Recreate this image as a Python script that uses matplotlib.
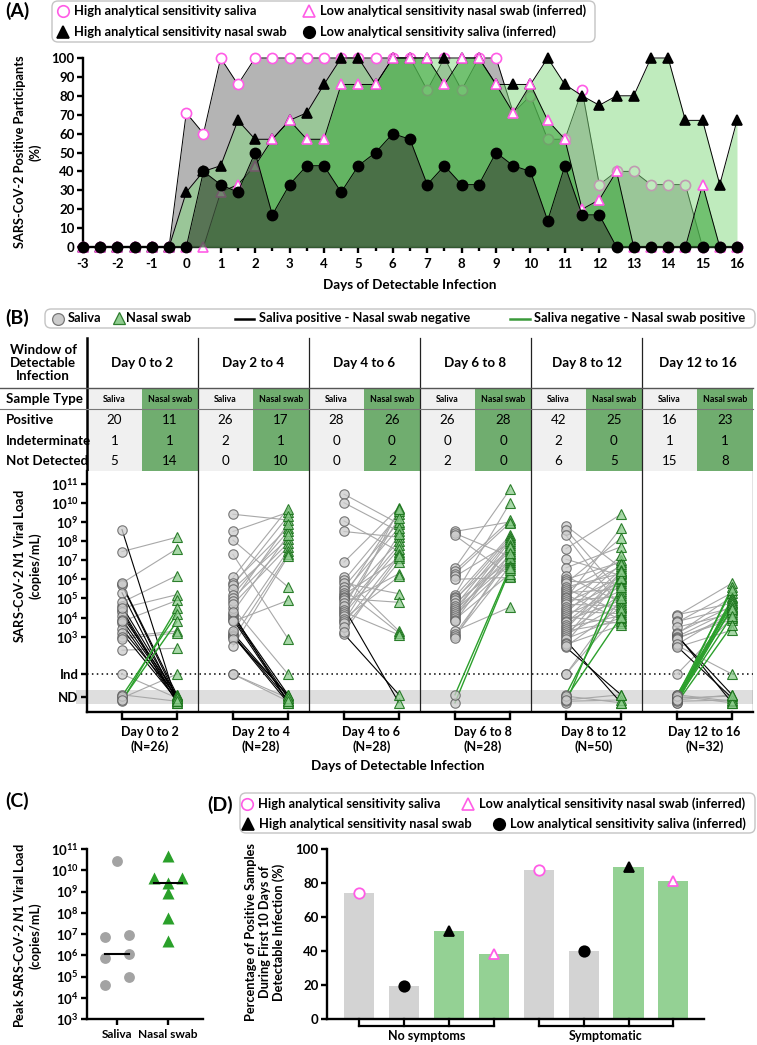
import numpy as np
import matplotlib
matplotlib.use('Agg')
import matplotlib.pyplot as plt
from matplotlib.patches import FancyBboxPatch, Rectangle
from matplotlib.transforms import blended_transform_factory as blend

plt.rcParams['font.family'] = ['Lato', 'DejaVu Sans']
plt.rcParams['font.weight'] = 'bold'
plt.rcParams['axes.unicode_minus'] = False
plt.rcParams['mathtext.fontset'] = 'custom'
plt.rcParams['mathtext.rm'] = 'Lato:bold'
plt.rcParams['mathtext.bf'] = 'Lato:bold'
plt.rcParams['mathtext.it'] = 'Lato:bold:italic'

# ------------------------------------------------------------------ data
# Panel A  (% positive participants by day of detectable infection)
days = np.arange(-3, 16.01, 0.5)
high_saliva = [0, 0, 0, 0, 0, 0, 71, 60, 100, 86, 100, 100, 100, 100, 100, 100, 100, 100, 100, 100,
               83, 100, 83, 100, 100, 71, 80, 57, 57, 83, 33, 40, 40, 33, 33, 33, 0, 0, 0]
high_nasal = [0, 0, 0, 0, 0, 0, 29, 40, 43, 67, 57, 57, 67, 71, 86, 100, 100, 86, 100, 100,
              100, 100, 100, 100, 86, 86, 86, 100, 86, 80, 75, 80, 80, 100, 100, 67, 67, 33, 67]
low_nasal = [0, 0, 0, 0, 0, 0, 0, 0, 29, 33, 43, 57, 67, 57, 57, 86, 86, 86, 100, 100,
             100, 86, 100, 100, 86, 71, 86, 67, 57, 20, 25, 40, 0, 0, 0, 0, 33, 0, 0]
low_saliva = [0, 0, 0, 0, 0, 0, 0, 40, 33, 29, 50, 17, 33, 43, 43, 29, 43, 50, 60, 57,
              33, 43, 33, 33, 50, 43, 40, 14, 43, 17, 17, 0, 0, 0, 0, 0, 0, 0, 0]

# Panel B table
windows = ['Day 0 to 2', 'Day 2 to 4', 'Day 4 to 6', 'Day 6 to 8', 'Day 8 to 12', 'Day 12 to 16']
n_pairs = [26, 28, 28, 28, 50, 32]
row_names = ['Positive', 'Indeterminate', 'Not Detected']
saliva_positive = [20, 26, 28, 26, 42, 16]
saliva_indeterminate = [1, 2, 0, 0, 2, 1]
saliva_not_detected = [5, 0, 0, 2, 6, 15]
nasal_positive = [11, 17, 26, 28, 25, 23]
nasal_indeterminate = [1, 1, 0, 0, 0, 1]
nasal_not_detected = [14, 10, 2, 0, 5, 8]

# Panel B paired viral loads (log10 copies/mL; 'Ind' indeterminate, 'ND' not detected)
g1_saliva = [8.6, 5.75, 5.7, 5.3, 4.6, 4.4, 4.3, 4.1, 3.9, 3.7, 3.4, 3.2,
             7.45, 5.8, 4.8, 4.5, 3.8, 3.0, 2.9, 2.3,
             'Ind', 'ND', 'ND', 'ND', 'ND', 'ND']
g1_nasal = ['ND', 'ND', 'ND', 'ND', 'ND', 'ND', 'ND', 'ND', 'ND', 'ND', 'ND', 'ND',
            8.2, 7.6, 6.2, 5.2, 4.9, 3.3, 3.2, 2.4,
            'ND', 'ND', 'Ind', 4.5, 4.2, 3.8]
g2_saliva = [4.2, 4.1, 4.0, 3.9, 3.2, 3.1, 3.05, 3.0, 4.5,
             9.4, 8.5, 8.05, 7.3, 6.1, 5.8, 5.7, 5.5, 5.2, 5.0, 4.85, 4.7, 4.3, 3.8, 3.3, 2.9, 2.5,
             'Ind', 'Ind']
g2_nasal = ['ND', 'ND', 'ND', 'ND', 'ND', 'ND', 'ND', 'ND', 'Ind',
            9.1, 9.5, 5.6, 2.9, 9.7, 8.7, 9.3, 8.1, 8.5, 7.9, 8.9, 7.7, 8.3, 4.9, 7.5, 7.3, 7.2,
            'ND', 'ND']
g3_saliva = [4.5, 3.15,
             10.45, 10.0, 9.05, 8.5, 6.9, 6.1, 5.95, 5.8, 5.6, 5.45, 5.3, 5.2, 5.1, 5.0, 4.9, 4.75,
             4.6, 4.4, 4.3, 4.2, 4.1, 3.95, 3.8, 3.7, 3.5, 3.25]
g3_nasal = ['ND', 'ND',
            8.9, 8.5, 7.45, 8.2, 9.75, 3.3, 9.4, 5.25, 9.0, 3.2, 8.7, 7.1, 9.55, 4.8, 8.0, 6.3,
            9.2, 7.8, 3.1, 7.6, 9.65, 6.15, 8.35, 7.3, 6.9, 7.2]
g4_saliva = [8.5, 8.4, 8.3, 6.6, 6.45, 6.3, 6.15, 6.0, 5.2, 5.1, 5.0, 4.9, 4.75, 4.6, 4.5, 4.4,
             4.3, 4.2, 4.1, 4.0, 3.9, 3.8, 3.3, 3.15, 3.05, 2.95, 'ND', 'ND']
g4_nasal = [9.0, 7.2, 6.2, 10.7, 9.1, 8.95, 7.9, 6.1, 10.0, 8.3, 7.6, 8.2, 7.0, 8.1, 7.5, 6.9,
            8.0, 7.3, 6.8, 7.8, 6.3, 7.7, 4.55, 7.1, 6.7, 7.4, 6.5, 6.6]
g5_saliva = [2.8, 2.45,
             8.8, 8.6, 8.3, 7.6, 7.05, 6.6, 6.15, 6.0, 5.9, 5.8, 5.6, 5.5, 5.4, 5.3, 5.2, 5.1, 5.0,
             4.9, 4.8, 4.7, 4.55, 4.45, 4.35, 4.25, 4.15, 4.05, 3.95, 3.85, 3.75, 3.6, 3.5, 3.4,
             3.3, 3.2, 3.1, 3.0, 2.9, 2.7, 2.6, 2.5,
             'Ind', 'Ind', 'ND', 'ND', 'ND', 'ND', 'ND', 'ND']
g5_nasal = ['ND', 'ND',
            6.6, 5.3, 4.5, 9.4, 6.2, 7.7, 4.8, 6.9, 5.8, 8.15, 6.3, 4.3, 7.0, 5.5, 3.9, 6.7, 8.7,
            5.1, 6.1, 4.6, 7.25, 5.9, 4.2, 6.8, 5.4, 3.7, 6.5, 4.9, 6.0, 5.7, 4.1, 6.4, 3.8, 5.2,
            4.7, 6.35, 4.0, 6.05, 3.6, 4.55,
            5.0, 4.4, 6.45, 5.6, 4.05, 'ND', 'ND', 'ND']
g6_saliva = [3.1, 3.05, 2.5, 2.55,
             4.15, 4.1, 3.8, 3.75, 3.5, 3.2, 3.15, 3.0, 2.95, 2.9, 2.6, 2.45,
             'Ind',
             'ND', 'ND', 'ND', 'ND', 'ND', 'ND', 'ND', 'ND', 'ND', 'ND',
             'ND', 'ND', 'ND', 'ND', 'ND']
g6_nasal = ['ND', 'ND', 'ND', 'Ind',
            4.75, 5.8, 4.5, 5.3, 4.2, 4.6, 5.1, 4.4, 3.9, 4.05, 4.3, 3.35,
            4.0,
            5.6, 5.45, 5.0, 4.9, 4.8, 4.7, 4.55, 4.45, 4.1, 3.6,
            'ND', 'ND', 'ND', 'ND', 'ND']
pairs_saliva = [g1_saliva, g2_saliva, g3_saliva, g4_saliva, g5_saliva, g6_saliva]
pairs_nasal = [g1_nasal, g2_nasal, g3_nasal, g4_nasal, g5_nasal, g6_nasal]

# Panel C peak viral load (log10 copies/mL)
peak_saliva = [10.42, 6.94, 6.84, 6.06, 5.86, 4.98, 4.62]
peak_nasal = [10.69, 9.64, 9.64, 9.4, 8.93, 7.75, 6.65]

# Panel D
symptom_groups = ['No symptoms', 'Symptomatic']
pct_high_saliva = [74, 87.5]
pct_low_saliva = [19.5, 40]
pct_high_nasal = [52, 89.5]
pct_low_nasal = [38.5, 81]

# ------------------------------------------------------------------ styling
W, H = 757, 1045
PINK = '#ff5ce6'
TFS = 9.5    # tick labels
LFS = 9.3    # legends
AFS = 9.2    # axis titles
BFS = 9.6    # table text
fig = plt.figure(figsize=(W / 100, H / 100), dpi=100)


def add_ax(l, t, r, b, **kw):
    return fig.add_axes([l / W, 1 - b / H, (r - l) / W, (b - t) / H], **kw)


def style_axis(ax, lw=1.7):
    for s in ['top', 'right']:
        ax.spines[s].set_visible(False)
    for s in ['left', 'bottom']:
        ax.spines[s].set_linewidth(lw)
    ax.tick_params(width=lw, length=4, labelsize=TFS, pad=2)


# ------------------------------------------------------------------ panel A
axA = add_ax(83, 58, 737, 247)
styles = [
    (high_saliva, '#b4b4b4', 1.0, 'o', 'white', PINK),
    (high_nasal, '#81d97d', 0.5, '^', 'black', 'black'),
    (low_nasal, '#3fa83f', 0.6, '^', 'white', PINK),
    (low_saliva, '#42593f', 0.75, 'o', 'black', 'black'),
]
for i, (vals, fc, al, mk, mfc, mec) in enumerate(styles):
    z = 2 + i
    axA.fill_between(days, vals, 0, color=fc, alpha=al, lw=0, zorder=z)
    axA.plot(days, vals, color='black', lw=0.7, zorder=z + 0.1, clip_on=False)
    axA.plot(days, vals, ls='none', marker=mk, ms=7.3, mfc=mfc, mec=mec, mew=1.2,
             zorder=z + 0.2, clip_on=False)
axA.set_xlim(-3, 16)
axA.set_ylim(0, 100)
axA.set_yticks(np.arange(0, 101, 10))
axA.set_xticks(np.arange(-3, 17, 1))
axA.set_xticks(np.arange(-2.5, 16, 1), minor=True)
style_axis(axA)
axA.tick_params(axis='x', which='minor', width=1.7, length=3)
axA.tick_params(axis='x', pad=4)

# ------------------------------------------------------------------ panel B table
GL, GW = 87, 111
tab = add_ax(0, 330, 757, 472)
tab.set_xlim(0, W)
tab.set_ylim(472, 330)
tab.axis('off')
row_y = [420, 441, 461]
sal_rows = [saliva_positive, saliva_indeterminate, saliva_not_detected]
nas_rows = [nasal_positive, nasal_indeterminate, nasal_not_detected]
for g, name in enumerate(windows):
    x0 = GL + GW * g
    tab.add_patch(Rectangle((x0, 388), 55, 84, fc='#f0f0f0', ec='none', zorder=0))
    tab.add_patch(Rectangle((x0 + 55, 388), 56, 84, fc='#70ad6f', ec='none', zorder=0))
    tab.text(x0 + GW / 2, 363, name, ha='center', va='center', fontsize=BFS)
    tab.text(x0 + 27.5, 399, 'Saliva', ha='center', va='center', fontsize=6.3)
    tab.text(x0 + 83, 399, 'Nasal swab', ha='center', va='center', fontsize=6.3)
    for r in range(3):
        tab.text(x0 + 27.5, row_y[r], str(sal_rows[r][g]), ha='center', va='center',
                 fontsize=BFS, fontweight='normal')
        tab.text(x0 + 83, row_y[r], str(nas_rows[r][g]), ha='center', va='center',
                 fontsize=BFS, fontweight='normal')
    if g > 0:
        tab.plot([x0, x0], [338, 472], color='#222222', lw=0.9)
tab.plot([GL, GL], [338, 472], color='black', lw=1.8)
tab.plot([0, 753], [388, 388], color='#555555', lw=1.0)
tab.plot([0, 753], [409, 409], color='#777777', lw=0.8)
tab.text(43, 363, 'Window of\nDetectable\nInfection', ha='center', va='center',
         fontsize=BFS, linespacing=1.05)
tab.text(6, 399, 'Sample Type', ha='left', va='center', fontsize=BFS)
for r, nm in enumerate(row_names):
    tab.text(6, row_y[r], nm, ha='left', va='center', fontsize=BFS)

# ------------------------------------------------------------------ panel B scatter
Y_IND, Y_ND = 1.05, -0.15
nd_offsets = [0.05, -0.15, -0.3, 0.12, -0.05, -0.22]
axB = add_ax(GL, 471, 753, 712)
axB.set_xlim(0, 6)
axB.set_ylim(-0.93, 11.66)
style_axis(axB)
axB.axhspan(-0.5, 0.23, xmin=-0.0165, xmax=1, color='#dedede', lw=0, zorder=0, clip_on=False)
axB.axhline(Y_IND, color='black', ls=(0, (1, 2.2)), lw=1.1, zorder=1)
for g in range(1, 7):
    axB.axvline(g, color='#222222', lw=0.9, zorder=1)


def ypos(v, k):
    if v == 'ND':
        return Y_ND + nd_offsets[k % len(nd_offsets)]
    if v == 'Ind':
        return Y_IND
    return float(v)


def is_pos(v):
    return not isinstance(v, str)


bt = blend(axB.transData, axB.transAxes)
for g in range(6):
    xs, xn = g + 35 / GW, g + 90 / GW
    sv, nv = pairs_saliva[g], pairs_nasal[g]
    ys = [ypos(v, k) for k, v in enumerate(sv)]
    yn = [ypos(v, k + 2) for k, v in enumerate(nv)]
    for k in range(len(sv)):
        if is_pos(sv[k]) and nv[k] == 'ND':
            c, lw, z = 'black', 0.8, 3
        elif sv[k] == 'ND' and is_pos(nv[k]):
            c, lw, z = '#2ca02c', 1.0, 3.5
        else:
            c, lw, z = '#a8a8a8', 0.8, 2
        axB.plot([xs, xn], [ys[k], yn[k]], color=c, lw=lw, zorder=z)
    axB.plot([xs] * len(ys), ys, ls='none', marker='o', ms=6.8,
             mfc=(0.80, 0.80, 0.80, 0.75), mec=(0.35, 0.35, 0.35, 0.8), mew=0.8, zorder=5)
    axB.plot([xn] * len(yn), yn, ls='none', marker='^', ms=6.8,
             mfc=(0.55, 0.80, 0.55, 0.75), mec=(0.10, 0.45, 0.10, 0.9), mew=0.8, zorder=5)
    d = 7 / 241
    axB.plot([xs, xs, xn, xn], [0, -d, -d, 0], transform=bt, color='black', lw=1.7,
             clip_on=False, solid_joinstyle='miter')
    axB.text((xs + xn) / 2, -14 / 241, f'{windows[g]}\n(N={n_pairs[g]})', transform=bt,
             ha='center', va='top', fontsize=9, linespacing=1.2)
axB.set_xticks([])
axB.spines['bottom'].set_bounds(0, 6)
yt = [Y_ND, Y_IND] + list(range(3, 12))
ylab = ['ND', 'Ind'] + [r'$\mathbf{10^{%d}}$' % p for p in range(3, 12)]
axB.set_yticks(yt, ylab)
axB.tick_params(axis='y', labelsize=TFS)

# ------------------------------------------------------------------ panel C
axC = add_ax(87, 849, 203, 1019)
axC.set_xlim(-0.59, 1.69)
axC.set_ylim(3, 11)
style_axis(axC)
sal_dx = [0, 0.23, -0.23, 0.23, -0.23, 0.23, -0.23]
nas_dx = [0, -0.27, 0.27, 0, 0, 0, 0]
axC.plot(np.array(sal_dx), peak_saliva, ls='none', marker='o', ms=7.8, color='#a3a3a3',
         mec='none', zorder=3, clip_on=False)
axC.plot(1 + np.array(nas_dx), peak_nasal, ls='none', marker='^', ms=8.3, color='#2aa02a',
         mec='none', zorder=3, clip_on=False)
axC.plot([-0.235, 0.235], [np.median(peak_saliva)] * 2, color='black', lw=1.5, zorder=4)
axC.plot([0.73, 1.27], [np.median(peak_nasal)] * 2, color='black', lw=1.5, zorder=4)
axC.set_yticks(range(3, 12), [r'$\mathbf{10^{%d}}$' % p for p in range(3, 12)])
axC.set_xticks([0, 1], ['Saliva', 'Nasal swab'])
axC.tick_params(axis='x', labelsize=8.6, pad=3)

# ------------------------------------------------------------------ panel D
axD = add_ax(327, 849, 704, 1019)
axD.set_xlim(-0.71, 7.68)
axD.set_ylim(0, 100)
style_axis(axD)
bar_vals, bar_cols, bar_mk = [], [], []
for j in range(2):
    bar_vals += [pct_high_saliva[j], pct_low_saliva[j], pct_high_nasal[j], pct_low_nasal[j]]
    bar_cols += ['#d3d3d3', '#d3d3d3', '#94d194', '#94d194']
    bar_mk += [('o', 'white', PINK), ('o', 'black', 'black'),
               ('^', 'black', 'black'), ('^', 'white', PINK)]
xpos = np.arange(len(bar_vals))
axD.bar(xpos, bar_vals, width=0.67, color=bar_cols, zorder=2)
for x, v, (mk, mfc, mec) in zip(xpos, bar_vals, bar_mk):
    axD.plot([x], [v], marker=mk, ms=7.5, mfc=mfc, mec=mec, mew=1.3, zorder=3)
axD.set_xticks([])
axD.set_yticks(range(0, 101, 20))
bd = blend(axD.transData, axD.transAxes)
dd = 7 / 170
for j, nm in enumerate(symptom_groups):
    xs = xpos[4 * j:4 * j + 4]
    axD.plot([xs[0], xs[-1]], [-dd, -dd], transform=bd, color='black', lw=1.6, clip_on=False)
    for x in xs:
        axD.plot([x, x], [0, -dd], transform=bd, color='black', lw=1.6, clip_on=False)
    axD.text(xs.mean(), -11 / 170, nm, transform=bd, ha='center', va='top', fontsize=9)

# ------------------------------------------------------------------ overlay (labels, legends)
ov = fig.add_axes([0, 0, 1, 1], zorder=10)
ov.set_xlim(0, W)
ov.set_ylim(H, 0)
ov.axis('off')


def box(x0, y0, x1, y1):
    ov.add_patch(FancyBboxPatch((x0, y0), x1 - x0, y1 - y0,
                                boxstyle='round,pad=0,rounding_size=6',
                                fc='white', ec='#c4c4c4', lw=1.0))


# legend A
box(52, 1, 595, 42)
entries = [(63, 11, 'o', 'white', PINK, 74, 'High analytical sensitivity saliva'),
           (309, 11, '^', 'white', PINK, 320, 'Low analytical sensitivity nasal swab (inferred)'),
           (63, 32, '^', 'black', 'black', 74, 'High analytical sensitivity nasal swab'),
           (309, 32, 'o', 'black', 'black', 320, 'Low analytical sensitivity saliva (inferred)')]
for mx, my, mk, mfc, mec, tx, lab in entries:
    ov.plot([mx], [my], marker=mk, ms=8.3, mfc=mfc, mec=mec, mew=1.2)
    ov.text(tx, my, lab, va='center', ha='left', fontsize=LFS)
# legend D
box(240, 793, 755, 833)
entriesD = [(247, 804, 'o', 'white', PINK, 258, 'High analytical sensitivity saliva'),
            (468, 804, '^', 'white', PINK, 479, 'Low analytical sensitivity nasal swab (inferred)'),
            (248, 824, '^', 'black', 'black', 259, 'High analytical sensitivity nasal swab'),
            (499, 824, 'o', 'black', 'black', 510, 'Low analytical sensitivity saliva (inferred)')]
for mx, my, mk, mfc, mec, tx, lab in entriesD:
    ov.plot([mx], [my], marker=mk, ms=8.3, mfc=mfc, mec=mec, mew=1.2)
    ov.text(tx, my, lab, va='center', ha='left', fontsize=LFS)
# legend B
box(45, 309, 755, 328)
ov.plot([58], [318.5], marker='o', ms=8.5, mfc='#cccccc', mec='#777777', mew=0.9)
ov.text(68, 318.5, 'Saliva', va='center', fontsize=LFS)
ov.plot([119], [318], marker='^', ms=8.5, mfc='#8fcc8f', mec='#2e7d2e', mew=0.9)
ov.text(126, 318.5, 'Nasal swab', va='center', fontsize=LFS)
ov.plot([235, 254], [318.5, 318.5], color='black', lw=1.8)
ov.text(259, 318.5, 'Saliva positive - Nasal swab negative', va='center', fontsize=LFS)
ov.plot([510, 530], [318.5, 318.5], color='#3a9a3a', lw=1.8)
ov.text(534, 318.5, 'Saliva negative - Nasal swab positive', va='center', fontsize=LFS)

# panel letters
for lab, x, y in [('(A)', 5, 11), ('(B)', 5, 318), ('(C)', 5, 801), ('(D)', 207, 805)]:
    ov.text(x, y, lab, fontsize=14, ha='left', va='center')

# axis titles
ov.text(28, 152, 'SARS-CoV-2 Positive Participants\n(%)', rotation=90, ha='center',
        va='center', fontsize=AFS, linespacing=1.3)
ov.text(410, 285, 'Days of Detectable Infection', ha='center', va='center', fontsize=AFS + 0.5)
ov.text(27, 566, 'SARS-CoV-2 $\\mathit{N1}$ Viral Load\n(copies/mL)', rotation=90,
        ha='center', va='center', fontsize=AFS, linespacing=1.3)
ov.text(398, 766, 'Days of Detectable Infection', ha='center', va='center', fontsize=AFS + 0.5)
ov.text(27, 936, 'Peak SARS-CoV-2 $\\mathit{N1}$ Viral Load\n(copies/mL)', rotation=90,
        ha='center', va='center', fontsize=AFS, linespacing=1.3)
ov.text(265, 932, 'Percentage of Positive Samples\nDuring First 10 Days of\nDetectable Infection (%)',
        rotation=90, ha='center', va='center', fontsize=AFS, linespacing=1.2)

fig.savefig('out.png', dpi=100)
